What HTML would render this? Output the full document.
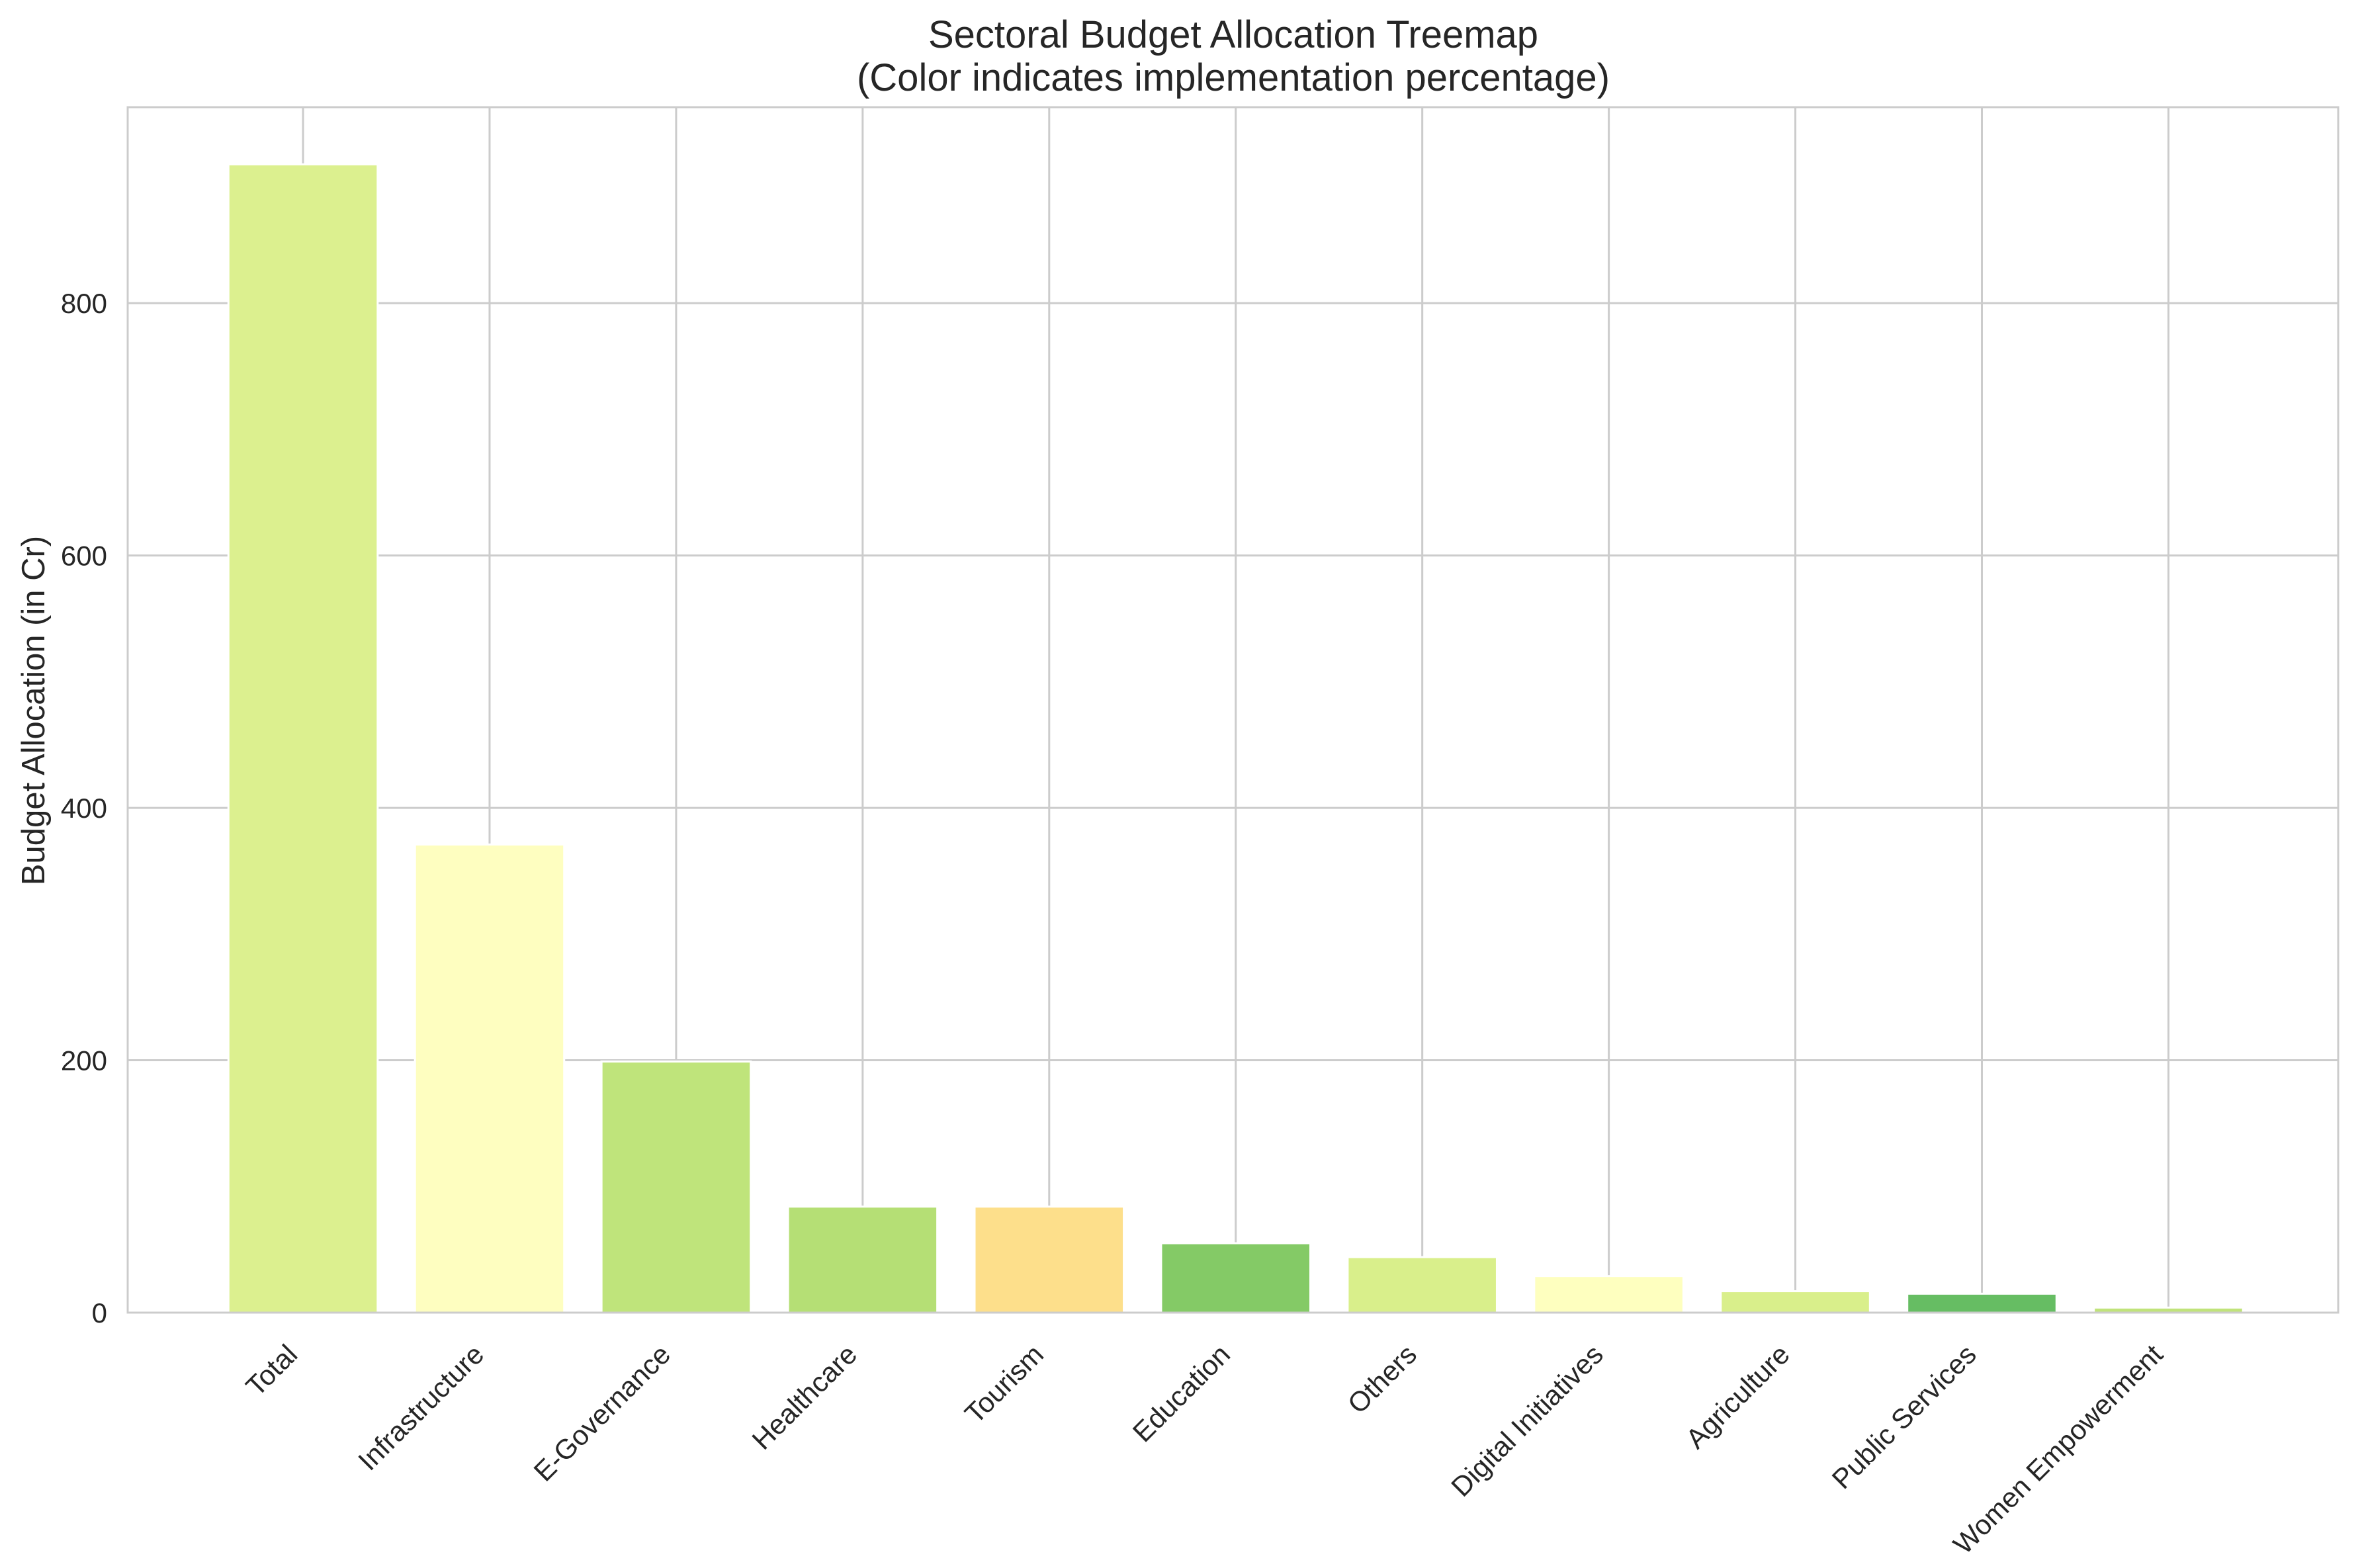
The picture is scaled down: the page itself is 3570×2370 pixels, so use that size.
<!DOCTYPE html>
<html><head><meta charset="utf-8"><style>
html,body{margin:0;padding:0;background:#fff;}
svg{display:block;font-family:"Liberation Sans",Arial,sans-serif;}
</style></head><body>
<svg id="chart" width="3570" height="2370" viewBox="0 0 3570 2370" xmlns="http://www.w3.org/2000/svg">
<rect x="0" y="0" width="3570" height="2370" fill="#ffffff"/>
<g id="grid"></g>
<g id="bars"></g>
<rect x="193" y="162" width="3341" height="1822" fill="none" stroke="#cccccc" stroke-width="3"/>
<g id="yticks"></g>
<g id="xticks"></g>
<text x="1864" y="72" font-size="58" fill="#262626" text-anchor="middle">Sectoral Budget Allocation Treemap</text>
<text x="1864" y="137" font-size="58" fill="#262626" text-anchor="middle">(Color indicates implementation percentage)</text>
<text transform="translate(67,1074) rotate(-90)" font-size="49" fill="#262626" text-anchor="middle">Budget Allocation (in Cr)</text>
</svg>
<script>
const categories = ["Total","Infrastructure","E-Governance","Healthcare","Tourism","Education","Others","Digital Initiatives","Agriculture","Public Services","Women Empowerment"];
const budgets = [910, 371, 199, 84, 84, 55, 44, 29, 17, 15, 4];
const barColors = ["#dcf08f","#fefec0","#bfe47b","#b5df75","#fddf8b","#84ca66","#d9ef8b","#feffbf","#d9ef8b","#66bd63","#c0e37a"];
const yTicks = [0, 200, 400, 600, 800];

const NS = "http://www.w3.org/2000/svg";
const plotL = 193, plotR = 3534, plotT = 162, plotB = 1984;
const xMin = -0.94, xMax = categories.length - 1 + 0.91;
const yMin = 0, yMax = 955.3;
function xScale(i){ return plotL + (i - xMin) / (xMax - xMin) * (plotR - plotL); }
function yScale(v){ return plotB - (v - yMin) / (yMax - yMin) * (plotB - plotT); }
const bw = 0.8 * (xScale(1) - xScale(0));

const grid = document.getElementById('grid');
yTicks.forEach(t => {
  const l = document.createElementNS(NS, 'line');
  
  
  l.setAttribute('x1', plotL); l.setAttribute('x2', plotR);
  l.setAttribute('y1', yScale(t)); l.setAttribute('y2', yScale(t));
  l.setAttribute('stroke', '#cccccc'); l.setAttribute('stroke-width', '3');
  grid.appendChild(l);
  const tx = document.createElementNS(NS, 'text');
  
  
  tx.setAttribute('x', 162); tx.setAttribute('y', yScale(t) + 15);
  tx.setAttribute('font-size', '42'); tx.setAttribute('fill', '#262626');
  tx.setAttribute('text-anchor', 'end');
  tx.textContent = String(t);
  document.getElementById('yticks').appendChild(tx);
});
categories.forEach((c, i) => {
  const x = xScale(i);
  const l = document.createElementNS(NS, 'line');
  
  
  l.setAttribute('x1', x); l.setAttribute('x2', x);
  l.setAttribute('y1', plotT); l.setAttribute('y2', plotB);
  l.setAttribute('stroke', '#cccccc'); l.setAttribute('stroke-width', '3');
  grid.appendChild(l);

  const r = document.createElementNS(NS, 'rect');
  
  
  const top = yScale(budgets[i]);
  r.setAttribute('x', x - bw / 2); r.setAttribute('y', top);
  r.setAttribute('width', bw); r.setAttribute('height', Math.max(0, yScale(0) - top));
  r.setAttribute('fill', barColors[i]);
  r.setAttribute('stroke', '#ffffff'); r.setAttribute('stroke-width', '3');
  document.getElementById('bars').appendChild(r);

  const tx = document.createElementNS(NS, 'text');
  
  
  tx.setAttribute('transform', 'translate(' + (x - 6) + ',' + 2050 + ') rotate(-45)');
  tx.setAttribute('font-size', '42'); tx.setAttribute('fill', '#262626');
  tx.setAttribute('text-anchor', 'end');
  tx.textContent = c;
  document.getElementById('xticks').appendChild(tx);
});
</script>
</body></html>
